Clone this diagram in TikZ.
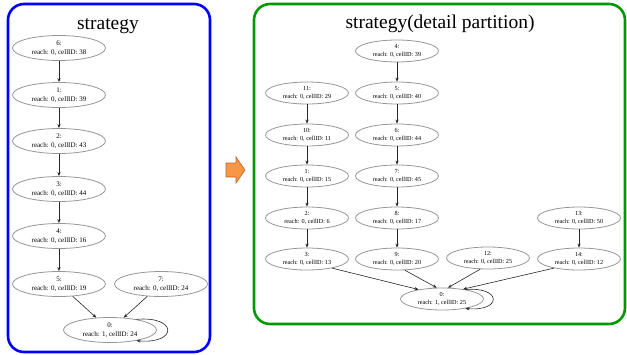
\documentclass[tikz,border=0pt]{standalone}
\usepackage{fontspec}
\setmainfont{Liberation Serif}
\usetikzlibrary{shapes.geometric,arrows.meta}
\definecolor{boxblue}{RGB}{0,0,255}
\definecolor{boxgreen}{RGB}{0,153,0}
\definecolor{ellgray}{RGB}{150,150,150}
\definecolor{arrfill}{RGB}{247,150,70}
\definecolor{arrline}{RGB}{190,100,40}
\tikzset{
  gnodeL/.style={ellipse,draw=ellgray,line width=0.8pt,minimum width=93pt,minimum height=25pt,inner sep=0pt,align=center,font=\fontsize{7}{8.5}\selectfont},
  gnodeR/.style={ellipse,draw=ellgray,line width=0.8pt,minimum width=83pt,minimum height=22pt,inner sep=0pt,align=center,font=\fontsize{6.2}{7.5}\selectfont},
  gedge/.style={draw=black!85,line width=0.6pt,-{Stealth[length=4pt,width=3.2pt]}},
  frame/.style={line width=2.6pt,rounded corners=16pt},
  title/.style={anchor=base,font=\fontsize{19.5}{22}\selectfont}
}
\begin{document}
\begin{tikzpicture}[x=1pt,y=-1pt]
\useasboundingbox (0,0) rectangle (627,354);
% frames
\draw[frame,boxblue] (8,4) rectangle (210,352);
\draw[frame,boxgreen] (254,4) rectangle (625,324);
\node[title] (tl) at (108,29) {strategy};
\node[title] (tr) at (440,28) {strategy(detail partition)};
% orange arrow
\draw[fill=arrfill,draw=arrline,line width=0.6pt] (226,163) -- (236,163) -- (236,157) -- (245,170) -- (236,183) -- (236,177) -- (226,177) -- cycle;
% left graph
\node[gnodeL] (l6) at (59,48) {6:\\reach: 0, cellID: 38};
\node[gnodeL] (l1) at (59,95) {1:\\reach: 0, cellID: 39};
\node[gnodeL] (l2) at (59,141) {2:\\reach: 0, cellID: 43};
\node[gnodeL] (l3) at (59,189) {3:\\reach: 0, cellID: 44};
\node[gnodeL] (l4) at (59,236) {4:\\reach: 0, cellID: 16};
\node[gnodeL] (l5) at (59,284) {5:\\reach: 0, cellID: 19};
\node[gnodeL] (l7) at (161,284) {7:\\reach: 0, cellID: 24};
\node[gnodeL] (l0) at (110,330) {0:\\reach: 1, cellID: 24};
\draw[gedge] (l6) -- (l1);
\draw[gedge] (l1) -- (l2);
\draw[gedge] (l2) -- (l3);
\draw[gedge] (l3) -- (l4);
\draw[gedge] (l4) -- (l5);
\draw[gedge] (l5) -- (l0);
\draw[gedge] (l7) -- (l0);
\draw[gedge] (l0.22) to[out=5,in=-5,looseness=5] (l0.-22);
% right graph
\node[gnodeR] (r4) at (397,51) {4:\\reach: 0, cellID: 39};
\node[gnodeR] (r11) at (307,93) {11:\\reach: 0, cellID: 29};
\node[gnodeR] (r5) at (397,93) {5:\\reach: 0, cellID: 40};
\node[gnodeR] (r10) at (307,135) {10:\\reach: 0, cellID: 11};
\node[gnodeR] (r6) at (397,135) {6:\\reach: 0, cellID: 44};
\node[gnodeR] (r1) at (307,176) {1:\\reach: 0, cellID: 15};
\node[gnodeR] (r7) at (397,176) {7:\\reach: 0, cellID: 45};
\node[gnodeR] (r2) at (307,218) {2:\\reach: 0, cellID: 6};
\node[gnodeR] (r8) at (397,218) {8:\\reach: 0, cellID: 17};
\node[gnodeR] (r13) at (579,218) {13:\\reach: 0, cellID: 50};
\node[gnodeR] (r3) at (307,259) {3:\\reach: 0, cellID: 13};
\node[gnodeR] (r9) at (397,259) {9:\\reach: 0, cellID: 20};
\node[gnodeR] (r12) at (488,258) {12:\\reach: 0, cellID: 25};
\node[gnodeR] (r14) at (579,259) {14:\\reach: 0, cellID: 12};
\node[gnodeR] (r0) at (442,299) {0:\\reach: 1, cellID: 25};
\draw[gedge] (r4) -- (r5);
\draw[gedge] (r5) -- (r6);
\draw[gedge] (r6) -- (r7);
\draw[gedge] (r7) -- (r8);
\draw[gedge] (r8) -- (r9);
\draw[gedge] (r11) -- (r10);
\draw[gedge] (r10) -- (r1);
\draw[gedge] (r1) -- (r2);
\draw[gedge] (r2) -- (r3);
\draw[gedge] (r13) -- (r14);
\draw[gedge] (r3.-20) -- (r0.158);
\draw[gedge] (r9.-55) -- (r0.115);
\draw[gedge] (r12.-125) -- (r0.62);
\draw[gedge] (r14.-160) -- (r0.25);
\draw[gedge] (r0.22) to[out=5,in=-5,looseness=5] (r0.-22);
\end{tikzpicture}
\end{document}
